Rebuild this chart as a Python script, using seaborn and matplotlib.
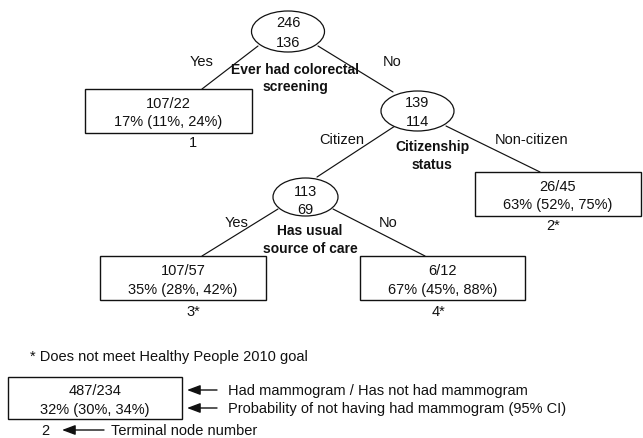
import matplotlib
matplotlib.use("Agg")
import matplotlib.pyplot as plt
from matplotlib.patches import Ellipse, Rectangle
import seaborn as sns
import pandas as pd

sns.set_theme(style="white")
plt.rcParams['font.family'] = ['Liberation Sans', 'DejaVu Sans']

# ---- data ----
split_counts = [("246", "136"), ("139", "114"), ("113", "69")]
split_names = ["Ever had colorectal\nscreening", "Citizenship\nstatus", "Has usual\nsource of care"]
leaf_counts = ["107/22", "26/45", "107/57", "6/12"]
leaf_probs = ["17% (11%, 24%)", "63% (52%, 75%)", "35% (28%, 42%)", "67% (45%, 88%)"]
leaf_ids = ["1", "2*", "3*", "4*"]
edge_labels = ["Yes", "No", "Citizen", "Non-citizen", "Yes", "No"]
legend_counts = "487/234"
legend_prob = "32% (30%, 34%)"
legend_id = "2"
legend_notes = ["* Does not meet Healthy People 2010 goal",
                "Had mammogram / Has not had mammogram",
                "Probability of not having had mammogram (95% CI)",
                "Terminal node number"]

# ---- layout (pixel space) ----
ell_pos = [(288, 32.5, 73, 41), (417.5, 112, 73, 40), (305.5, 198, 65, 38)]
ell_text_y = [(23, 43), (103, 122), (192, 210)]
name_pos = [(295, 78.5), (432, 156), (310, 240)]
box_pos = [(85, 90, 167, 44), (475, 173, 166, 44), (100, 257, 166, 44), (360, 257, 165, 44)]
box_text_y = [(104, 122), (187, 205), (271, 290), (271, 290)]
id_pos = [(193, 143), (553, 226), (193, 312), (438, 312)]
edges = [((258, 47), (202, 90)), ((318, 47), (393, 93)),
         ((395, 127), (317, 178)), ((446, 127), (540, 173)),
         ((278, 210), (202, 257)), ((333, 210), (425, 257))]
edge_lab_pos = [(202, 62), (392, 62), (342, 140), (532, 140), (237, 223), (388, 223)]

FS = 10.5
FSB = 10
INK = "#111111"
ARROW = dict(arrowstyle="-|>,head_length=0.8,head_width=0.3", color=INK, lw=1.0,
             mutation_scale=10, shrinkA=0, shrinkB=0)

fig = plt.figure(figsize=(6.43, 4.39), dpi=100)
ax = fig.add_axes([0, 0, 1, 1])

rows = []
for i, (a, b) in enumerate(edges):
    rows.append({"edge": i, "x": a[0], "y": a[1]})
    rows.append({"edge": i, "x": b[0], "y": b[1]})
df = pd.DataFrame(rows)
sns.lineplot(data=df, x="x", y="y", units="edge", estimator=None, sort=False,
             color=INK, lw=0.85, ax=ax, legend=False)

for (cx, cy, w, h), (y1, y2), (c1, c2) in zip(ell_pos, ell_text_y, split_counts):
    ax.add_patch(Ellipse((cx, cy), w, h, facecolor="white", edgecolor=INK, lw=0.9, zorder=3))
    ax.text(cx, y1, c1, ha="center", va="center", fontsize=FS, color=INK, zorder=4)
    ax.text(cx, y2, c2, ha="center", va="center", fontsize=FS, color=INK, zorder=4)

for (x, y), nm in zip(name_pos, split_names):
    ax.text(x, y, nm, ha="center", va="center", fontsize=FSB, fontweight="bold",
            color=INK, linespacing=1.3, zorder=5)

for (x, y, w, h), (y1, y2), c, p in zip(box_pos, box_text_y, leaf_counts, leaf_probs):
    ax.add_patch(Rectangle((x, y), w, h, facecolor="white", edgecolor=INK, lw=1.0, zorder=3))
    cx = x + w / 2
    ax.text(cx, y1, c, ha="center", va="center", fontsize=FS, color=INK, zorder=4)
    ax.text(cx, y2, p, ha="center", va="center", fontsize=FS, color=INK, zorder=4)

for (x, y), t in zip(id_pos, leaf_ids):
    ax.text(x, y, t, ha="center", va="center", fontsize=FS, color=INK)

for (x, y), t in zip(edge_lab_pos, edge_labels):
    ax.text(x, y, t, ha="center", va="center", fontsize=FS, color=INK)

# ---- legend ----
ax.text(30, 357, legend_notes[0], ha="left", va="center", fontsize=FS, color=INK)
ax.add_patch(Rectangle((8, 378), 174, 42, facecolor="white", edgecolor=INK, lw=1.0))
ax.text(95, 391, legend_counts, ha="center", va="center", fontsize=FS, color=INK)
ax.text(95, 410, legend_prob, ha="center", va="center", fontsize=FS, color=INK)
ax.text(45, 431, legend_id, ha="center", va="center", fontsize=FS, color=INK)
for y, t in [(391, legend_notes[1]), (409, legend_notes[2])]:
    ax.annotate("", xy=(187, y), xytext=(217, y), arrowprops=ARROW)
    ax.text(228, y, t, ha="left", va="center", fontsize=FS, color=INK)
ax.annotate("", xy=(62, 431), xytext=(104, 431), arrowprops=ARROW)
ax.text(111, 431, legend_notes[3], ha="left", va="center", fontsize=FS, color=INK)

ax.set_xlim(0, 643)
ax.set_ylim(439, 0)
ax.axis("off")
fig.savefig("out.png", dpi=100, facecolor="white")
